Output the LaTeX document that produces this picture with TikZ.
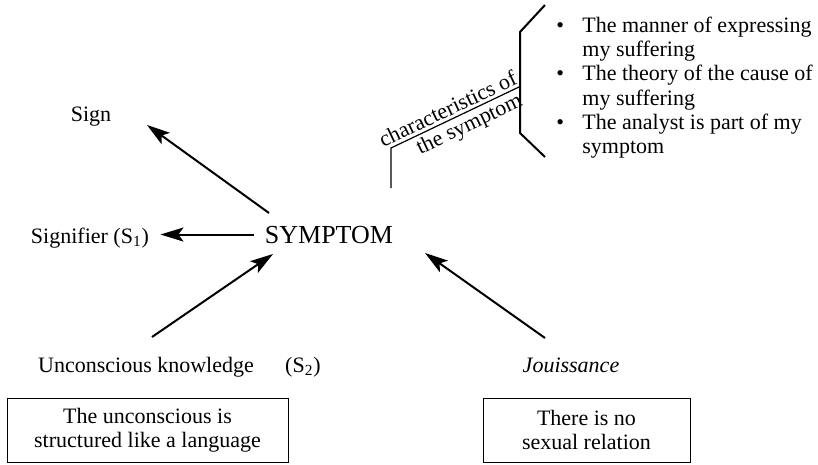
\documentclass[tikz,border=0pt]{standalone}
\usepackage{fontspec}
\setmainfont{Liberation Serif}
\usetikzlibrary{arrows.meta,positioning,calc}

\begin{document}
\begin{tikzpicture}[
  x=0.5pt, y=-0.5pt,
  >={Stealth[length=11.5pt,width=7pt,inset=2.5pt]},
  lab/.style={font=\fontsize{11pt}{12pt}\selectfont, inner sep=0pt},
  big/.style={font=\fontsize{13pt}{14pt}\selectfont, inner sep=0pt},
  axiom/.style={lab, draw, line width=0.5pt, align=center, minimum height=32pt},
  arr/.style={->, line width=1pt}
]
\useasboundingbox (0,0) rectangle (818,465);

% centre and the words round it
\node[big, anchor=base] (sym) at (329,243) {SYMPTOM};
\node[lab] (sign) at (91,117) {Sign};
\node[lab, anchor=base] (sig) at (90,243) {Signifier (S\textsubscript{1})};
\node[lab, anchor=base] (uk) at (146,372) {Unconscious knowledge};
\node[lab, anchor=base] (s2) at (303,372) {(S\textsubscript{2})};
\node[lab, anchor=base, font=\fontsize{11pt}{12pt}\selectfont\itshape] (jou) at (571,372) {Jouissance};

% the two boxed sayings
\node[axiom, minimum width=140.5pt] (lang) at (147.5,430) {The unconscious is\\structured like a language};
\node[axiom, minimum width=103.5pt] (rel) at (586.5,430) {There is no\\sexual relation};

% arrow ends
\coordinate (signtail) at (269,213);
\coordinate (signtip) at (147,125);
\coordinate (uktail) at (152,337);
\coordinate (uktip) at (273,254);
\coordinate (joutail) at (545,338);
\coordinate (joutip) at (425,253);

\draw[arr] (signtail) -- (signtip);
\draw[arr, shorten <=5.5pt, shorten >=5.5pt] (sym.west) -- (sig.east |- sym.west);
\draw[arr] (uktail) -- (uktip);
\draw[arr] (joutail) -- (joutip);

% characteristics of the symptom
\coordinate (foot) at (391,188);
\coordinate (knee) at (391,148);
\coordinate (reach) at (519,87);
\draw[line width=0.6pt] (foot) -- (knee) -- (reach);
\node[lab, rotate=25.5, anchor=south, inner sep=1.5pt] (charA) at ($(knee)!0.48!(reach)$) {characteristics of};
\node[lab, rotate=25.5, anchor=north, inner sep=1.5pt] (charB) at ($(knee)!0.57!(reach)$) {the symptom};
\draw[line width=1pt] (545,5) -- (520,32) -- (520,133) -- (545,157);

\node[lab, anchor=base west] (traits) at (556,33) {\begin{tabular}[t]{@{}p{13pt}@{}l@{}}
\textbullet & The manner of expressing\\
 & my suffering\\
\textbullet & The theory of the cause of\\
 & my suffering\\
\textbullet & The analyst is part of my\\
 & symptom
\end{tabular}};
\end{tikzpicture}
\end{document}
